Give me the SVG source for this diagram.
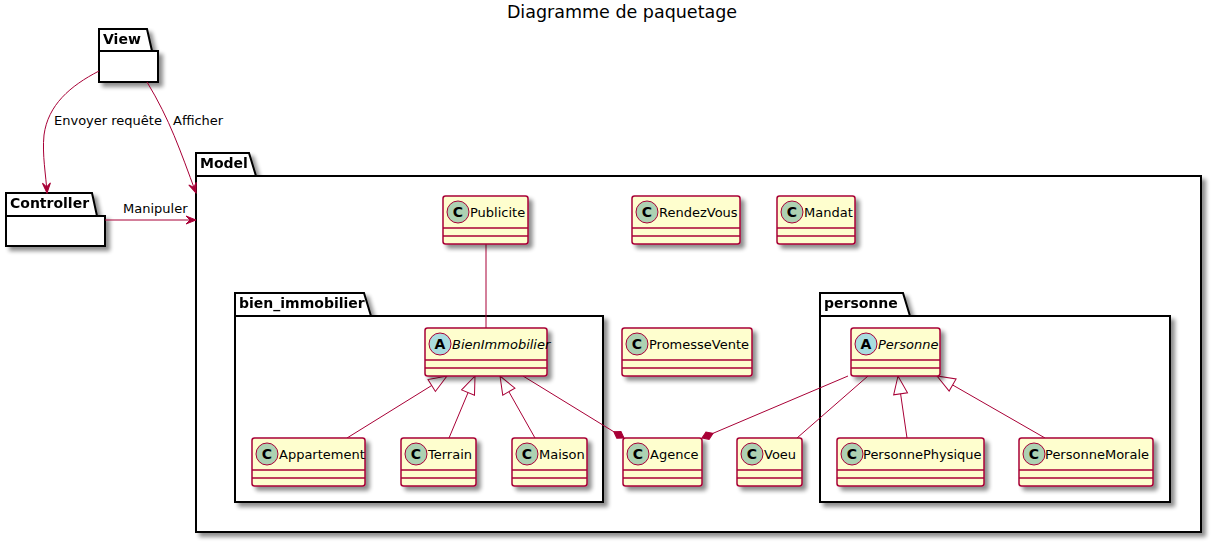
<svg xmlns="http://www.w3.org/2000/svg" width="1222" height="544" viewBox="0 0 1222 544">
<style>
text{font-family:"DejaVu Sans","Liberation Sans",sans-serif;fill:#000}
.title{font-size:17.5px}
.pk{fill:#fff;stroke:#000;stroke-width:2}
.pkt{font-size:14px;font-weight:bold}
.cls{fill:#FEFECE;stroke:#A80036;stroke-width:1.5}
.sep{stroke:#A80036;stroke-width:1.5}
.spotC{fill:#ADD1B2;stroke:#A80036;stroke-width:1}
.spotA{fill:#A9DCDF;stroke:#A80036;stroke-width:1}
.sl{font-size:14px;font-weight:bold;text-anchor:middle}
.cn{font-size:13px}
.it{font-style:italic}
.edge{fill:none;stroke:#A80036;stroke-width:1}
.lbl{font-size:13px}
</style>
<defs>
<filter id="sh" x="-10%" y="-10%" width="130%" height="130%">
<feGaussianBlur in="SourceAlpha" stdDeviation="2"/>
<feOffset dx="4" dy="4" result="b"/>
<feComponentTransfer><feFuncA type="linear" slope="0.45"/></feComponentTransfer>
<feMerge><feMergeNode/><feMergeNode in="SourceGraphic"/></feMerge>
</filter>
<marker id="arr" viewBox="-11 -5 12 10" refX="0" refY="0" markerWidth="12" markerHeight="10" markerUnits="userSpaceOnUse" orient="auto">
<path d="M0,0 L-10,-4 L-6,0 L-10,4 Z" fill="#A80036" stroke="#A80036" stroke-width="1"/>
</marker>
<marker id="tri" viewBox="-20 -8 21 16" refX="0" refY="0" markerWidth="21" markerHeight="16" markerUnits="userSpaceOnUse" orient="auto">
<path d="M0,0 L-18,-7 L-18,7 Z" fill="#fff" stroke="#A80036" stroke-width="1"/>
</marker>
<marker id="dia" viewBox="-14 -5 15 10" refX="0" refY="0" markerWidth="15" markerHeight="10" markerUnits="userSpaceOnUse" orient="auto">
<path d="M0,0 L-6,-4 L-12,0 L-6,4 Z" fill="#A80036" stroke="#A80036" stroke-width="1"/>
</marker>
</defs>
<rect width="1222" height="544" fill="#fff"/>
<text class="title" x="622" y="18" text-anchor="middle">Diagramme de paquetage</text>

<g id="pkg-View" filter="url(#sh)">
<path class="pk" d="M99,29 L147,29 L152,51 L158,51 L158,82 L99,82 Z"/>
<line x1="99" y1="51" x2="152" y2="51" stroke="#000" stroke-width="2"/>
<text class="pkt" x="103" y="44">View</text>
</g>
<g id="pkg-Controller" filter="url(#sh)">
<path class="pk" d="M6,193 L92,193 L97,216 L105,216 L105,246 L6,246 Z"/>
<line x1="6" y1="216" x2="97" y2="216" stroke="#000" stroke-width="2"/>
<text class="pkt" x="10" y="208">Controller</text>
</g>
<g id="pkg-Model" filter="url(#sh)">
<path class="pk" d="M196,153 L249,153 L256,176 L1201,176 L1201,532 L196,532 Z"/>
<line x1="196" y1="176" x2="256" y2="176" stroke="#000" stroke-width="2"/>
<text class="pkt" x="200" y="168">Model</text>
</g>
<g id="pkg-bien_immobilier" filter="url(#sh)">
<path class="pk" d="M235,293 L364,293 L371,316 L603,316 L603,502 L235,502 Z"/>
<line x1="235" y1="316" x2="371" y2="316" stroke="#000" stroke-width="2"/>
<text class="pkt" x="239" y="308">bien_immobilier</text>
</g>
<g id="pkg-personne" filter="url(#sh)">
<path class="pk" d="M820,293 L903,293 L910,316 L1170,316 L1170,502 L820,502 Z"/>
<line x1="820" y1="316" x2="910" y2="316" stroke="#000" stroke-width="2"/>
<text class="pkt" x="824" y="308">personne</text>
</g>

<g id="connectors">
<path class="edge" d="M99,71 C70,86 48,105 44,135 C42,155 46,175 47,193" marker-end="url(#arr)"/>
<path class="edge" d="M147,82 C170,120 180,150 196,193" marker-end="url(#arr)"/>
<path class="edge" d="M105,220 L196,220" marker-end="url(#arr)"/>
<text class="lbl" x="54" y="125">Envoyer requête</text>
<text class="lbl" x="173" y="125">Afficher</text>
<text class="lbl" x="123" y="213">Manipuler</text>
<path class="edge" d="M486,244 L486,328"/>
<path class="edge" d="M347,438 L447,376" marker-end="url(#tri)"/>
<path class="edge" d="M449,438 L475,376" marker-end="url(#tri)"/>
<path class="edge" d="M535,438 L500,376" marker-end="url(#tri)"/>
<path class="edge" d="M523,376 L624,438" marker-end="url(#dia)"/>
<path class="edge" d="M848,376 L702,438" marker-end="url(#dia)"/>
<path class="edge" d="M868,376 L797,438"/>
<path class="edge" d="M907,438 L898,376" marker-end="url(#tri)"/>
<path class="edge" d="M1045,438 L937,376" marker-end="url(#tri)"/>
</g>

<g id="Publicite">
<rect class="cls" x="443" y="196" width="85" height="48" rx="2.5" filter="url(#sh)"/>
<line class="sep" x1="443" y1="228" x2="528" y2="228"/><line class="sep" x1="443" y1="236" x2="528" y2="236"/>
<circle class="spotC" cx="458" cy="212" r="11"/><text class="sl" x="458" y="217">C</text>
<text class="cn" x="470" y="217">Publicite</text>
</g>
<g id="RendezVous">
<rect class="cls" x="632" y="196" width="108" height="48" rx="2.5" filter="url(#sh)"/>
<line class="sep" x1="632" y1="228" x2="740" y2="228"/><line class="sep" x1="632" y1="236" x2="740" y2="236"/>
<circle class="spotC" cx="647" cy="212" r="11"/><text class="sl" x="647" y="217">C</text>
<text class="cn" x="659" y="217">RendezVous</text>
</g>
<g id="Mandat">
<rect class="cls" x="777" y="196" width="78" height="48" rx="2.5" filter="url(#sh)"/>
<line class="sep" x1="777" y1="228" x2="855" y2="228"/><line class="sep" x1="777" y1="236" x2="855" y2="236"/>
<circle class="spotC" cx="792" cy="212" r="11"/><text class="sl" x="792" y="217">C</text>
<text class="cn" x="804" y="217">Mandat</text>
</g>
<g id="BienImmobilier">
<rect class="cls" x="425" y="328" width="122" height="48" rx="2.5" filter="url(#sh)"/>
<line class="sep" x1="425" y1="360" x2="547" y2="360"/><line class="sep" x1="425" y1="368" x2="547" y2="368"/>
<circle class="spotA" cx="440" cy="344" r="11"/><text class="sl" x="440" y="349">A</text>
<text class="cn it" x="452" y="349">BienImmobilier</text>
</g>
<g id="PromesseVente">
<rect class="cls" x="622" y="328" width="130" height="48" rx="2.5" filter="url(#sh)"/>
<line class="sep" x1="622" y1="360" x2="752" y2="360"/><line class="sep" x1="622" y1="368" x2="752" y2="368"/>
<circle class="spotC" cx="637" cy="344" r="11"/><text class="sl" x="637" y="349">C</text>
<text class="cn" x="649" y="349">PromesseVente</text>
</g>
<g id="Personne">
<rect class="cls" x="851" y="328" width="89" height="48" rx="2.5" filter="url(#sh)"/>
<line class="sep" x1="851" y1="360" x2="940" y2="360"/><line class="sep" x1="851" y1="368" x2="940" y2="368"/>
<circle class="spotA" cx="866" cy="344" r="11"/><text class="sl" x="866" y="349">A</text>
<text class="cn it" x="878" y="349">Personne</text>
</g>
<g id="Appartement">
<rect class="cls" x="252" y="438" width="113" height="48" rx="2.5" filter="url(#sh)"/>
<line class="sep" x1="252" y1="470" x2="365" y2="470"/><line class="sep" x1="252" y1="478" x2="365" y2="478"/>
<circle class="spotC" cx="267" cy="454" r="11"/><text class="sl" x="267" y="459">C</text>
<text class="cn" x="279" y="459">Appartement</text>
</g>
<g id="Terrain">
<rect class="cls" x="401" y="438" width="75" height="48" rx="2.5" filter="url(#sh)"/>
<line class="sep" x1="401" y1="470" x2="476" y2="470"/><line class="sep" x1="401" y1="478" x2="476" y2="478"/>
<circle class="spotC" cx="416" cy="454" r="11"/><text class="sl" x="416" y="459">C</text>
<text class="cn" x="428" y="459">Terrain</text>
</g>
<g id="Maison">
<rect class="cls" x="512" y="438" width="75" height="48" rx="2.5" filter="url(#sh)"/>
<line class="sep" x1="512" y1="470" x2="587" y2="470"/><line class="sep" x1="512" y1="478" x2="587" y2="478"/>
<circle class="spotC" cx="527" cy="454" r="11"/><text class="sl" x="527" y="459">C</text>
<text class="cn" x="539" y="459">Maison</text>
</g>
<g id="Agence">
<rect class="cls" x="623" y="438" width="79" height="48" rx="2.5" filter="url(#sh)"/>
<line class="sep" x1="623" y1="470" x2="702" y2="470"/><line class="sep" x1="623" y1="478" x2="702" y2="478"/>
<circle class="spotC" cx="638" cy="454" r="11"/><text class="sl" x="638" y="459">C</text>
<text class="cn" x="650" y="459">Agence</text>
</g>
<g id="Voeu">
<rect class="cls" x="737" y="438" width="65" height="48" rx="2.5" filter="url(#sh)"/>
<line class="sep" x1="737" y1="470" x2="802" y2="470"/><line class="sep" x1="737" y1="478" x2="802" y2="478"/>
<circle class="spotC" cx="752" cy="454" r="11"/><text class="sl" x="752" y="459">C</text>
<text class="cn" x="764" y="459">Voeu</text>
</g>
<g id="PersonnePhysique">
<rect class="cls" x="837" y="438" width="147" height="48" rx="2.5" filter="url(#sh)"/>
<line class="sep" x1="837" y1="470" x2="984" y2="470"/><line class="sep" x1="837" y1="478" x2="984" y2="478"/>
<circle class="spotC" cx="852" cy="454" r="11"/><text class="sl" x="852" y="459">C</text>
<text class="cn" x="863" y="459">PersonnePhysique</text>
</g>
<g id="PersonneMorale">
<rect class="cls" x="1019" y="438" width="134" height="48" rx="2.5" filter="url(#sh)"/>
<line class="sep" x1="1019" y1="470" x2="1153" y2="470"/><line class="sep" x1="1019" y1="478" x2="1153" y2="478"/>
<circle class="spotC" cx="1034" cy="454" r="11"/><text class="sl" x="1034" y="459">C</text>
<text class="cn" x="1045" y="459">PersonneMorale</text>
</g>
</svg>
